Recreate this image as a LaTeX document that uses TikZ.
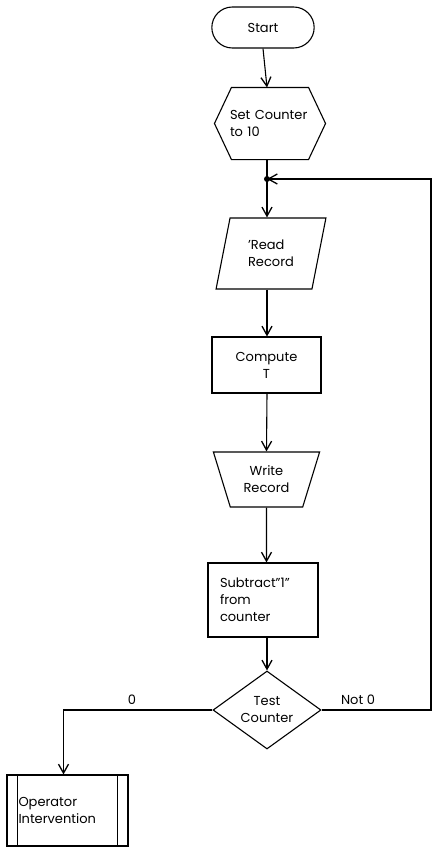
\documentclass[tikz,border=0pt]{standalone}
\usepackage{fontspec}
\setmainfont{Poppins}
\usetikzlibrary{shapes.geometric,shapes.misc,arrows.meta}

\begin{document}
\begin{tikzpicture}[x=1pt,y=-1pt,line width=1.1pt,
    font=\fontsize{13}{17}\selectfont,
    arr/.style={-{Straight Barb[length=9pt,width=10pt,line width=1.3pt]}},
    box/.style={draw,rectangle,inner sep=2pt}]
  \useasboundingbox (0,0) rectangle (432,847);
  \node[draw,rounded rectangle,minimum width=109pt,minimum height=41pt] (start) at (263,27.5) {Start};
  \node[rectangle,minimum width=110pt,minimum height=71pt,inner sep=0pt,text width=80pt,align=left] (setc) at (270,123.5) {Set Counter\\to 10};
  \coordinate (junc) at (267,179);
  \node[draw,trapezium,trapezium left angle=75,trapezium right angle=105,trapezium stretches=true,
        minimum width=110pt,minimum height=71pt,align=left] (read) at (271,253.5) {'Read\\Record};
  \node[box,minimum width=109pt,minimum height=56pt,align=center] (comp) at (266.5,365) {Compute\\T};
  \node[draw,trapezium,trapezium angle=70,shape border rotate=180,trapezium stretches=true,
        minimum width=107pt,minimum height=55pt,align=center] (write) at (266.5,479.5) {Write\\Record};
  \node[box,minimum width=110pt,minimum height=74pt,text width=86pt,align=left] (sub) at (263,600) {Subtract''1''\\from\\counter};
  \node[draw,diamond,aspect=1.4,inner sep=1pt,minimum width=108pt,minimum height=78pt,align=center] (test) at (267,710) {Test\\Counter};
  \node[box,minimum width=121pt,minimum height=71pt,text width=98pt,align=left] (op) at (67.5,810.5) {Operator\\Intervention};
  \coordinate (rgt) at (431,179);
  \draw (setc.west) -- ([xshift=17pt]setc.north west) -- ([xshift=-17pt]setc.north east)
    -- (setc.east) -- ([xshift=-17pt]setc.south east) -- ([xshift=17pt]setc.south west) -- cycle;
  \draw ([xshift=11pt]op.north west) -- ([xshift=11pt]op.south west);
  \draw ([xshift=-11pt]op.north east) -- ([xshift=-11pt]op.south east);
  \draw[arr] (start.south) -- (setc.north -| junc);
  \draw (setc.south -| junc) -- (junc);
  \draw[arr] (junc) -- (read.north -| junc);
  \draw[arr] (read.south -| junc) -- (comp.north -| junc);
  \draw[arr] (comp.south -| junc) -- (write.north -| comp);
  \draw[arr] (write.south) -- (sub.north -| write);
  \draw[arr] (sub.south -| junc) -- (test.north);
  \draw[arr] (test.west) -| ([xshift=-4pt]op.north);
  \draw[arr] (test.east) -| (rgt) -- (junc);
  \fill (junc) circle (3pt);
  \node at (132,700) {0};
  \node at (358,700) {Not 0};
\end{tikzpicture}
\end{document}
